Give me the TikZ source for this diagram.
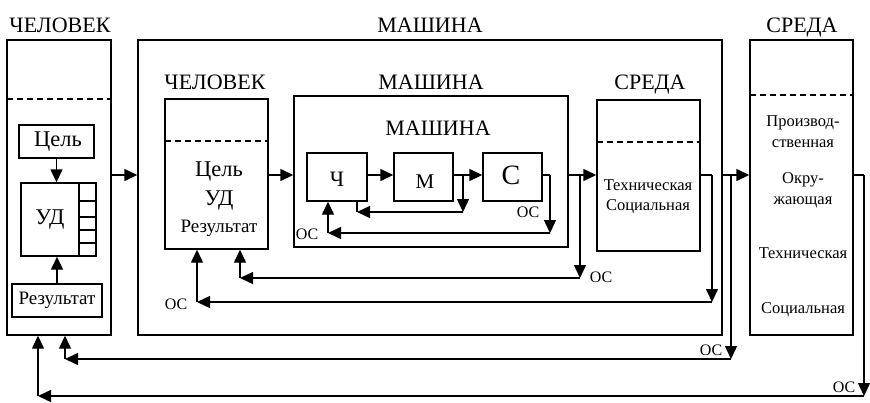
\documentclass[tikz,border=0pt]{standalone}
\usepackage{fontspec}
\setmainfont{Liberation Serif}
\usetikzlibrary{arrows.meta}
\newcommand{\fs}[1]{\fontsize{#1}{#1}\selectfont}
\begin{document}
\begin{tikzpicture}[x=1pt,y=-1pt,line width=1.4pt,
  box/.style={draw,rectangle,inner sep=0pt,line width=1.4pt},
  arr/.style={-{Triangle[length=13pt,width=12pt]}},
  dsh/.style={line width=1.4pt,dash pattern=on 6pt off 4pt},
  big/.style={inner sep=0pt,anchor=base,font=\fs{22}},
  mid/.style={inner sep=0pt,font=\fs{22.5}},
  res/.style={inner sep=0pt,font=\fs{19}},
  sm/.style={inner sep=0pt,font=\fs{16.5}},
  oc/.style={inner sep=0pt,font=\fs{16}}]
\useasboundingbox (0,0) rectangle (870,402);
% boxes
\node[box,minimum width=104pt,minimum height=295pt] (hum) at (59,187.5) {};
\node[box,minimum width=75pt,minimum height=33pt] (goal) at (56.5,141.5) {};
\node[box,minimum width=75pt,minimum height=73pt] (ud) at (58.5,219.5) {};
\node[box,minimum width=90pt,minimum height=33pt] (resb) at (57,300.5) {};
\node[box,minimum width=584pt,minimum height=295pt] (mach) at (430,187.5) {};
\node[box,minimum width=103pt,minimum height=150pt] (hum2) at (216.5,174) {};
\node[box,minimum width=274pt,minimum height=151pt] (mach2) at (431,171.5) {};
\node[box,minimum width=60pt,minimum height=48pt] (ch) at (337,177) {};
\node[box,minimum width=59pt,minimum height=48pt] (m) at (423.5,177) {};
\node[box,minimum width=59pt,minimum height=48pt] (c) at (512.5,177) {};
\node[box,minimum width=103pt,minimum height=151pt] (env2) at (648.5,175.5) {};
\node[box,minimum width=103pt,minimum height=295pt] (env) at (801.5,187.5) {};
% dashed separators
\draw[dsh] (7,99) -- (111,99);
\draw[dsh] (165,141) -- (268,141);
\draw[dsh] (597,142) -- (700,142);
\draw[dsh] (750,95) -- (853,95);
% cells of UD
\draw (79,183) -- (79,256);
\foreach \yy in {201,217,230,243} \draw (79,\yy) -- (96,\yy);
% labels
\node[big] (l1) at (60,32) {ЧЕЛОВЕК};
\node[big] (l2) at (430,32) {МАШИНА};
\node[big] (l3) at (802,32) {СРЕДА};
\node[big] (l4) at (215,89) {ЧЕЛОВЕК};
\node[big] (l5) at (431,89) {МАШИНА};
\node[big] (l6) at (650,89) {СРЕДА};
\node[big] (l7) at (438,135) {МАШИНА};
\node[mid] (tg) at (58,141.5) {Цель};
\node[mid] (tud) at (50,220) {УД};
\node[res] (tres) at (57,300.5) {Результат};
\node[mid] (tg2) at (219,172) {Цель};
\node[mid] (tud2) at (219,201) {УД};
\node[res] (tres2) at (219,228) {Результат};
\node[inner sep=0pt,font=\fs{22}] (tch) at (337,179) {Ч};
\node[inner sep=0pt,font=\fs{21}] (tm) at (425,182) {М};
\node[inner sep=0pt,font=\fs{28}] (tc) at (511,175) {С};
\node[sm] (te1) at (648,185) {Техническая};
\node[sm] (te2) at (648,207) {Социальная};
\node[sm] (tp1) at (803,123) {Производ-};
\node[sm] (tp2) at (803,144) {ственная};
\node[sm] (tp3) at (803,180) {Окру-};
\node[sm] (tp4) at (803,202) {жающая};
\node[sm] (tp5) at (803,253) {Техническая};
\node[sm] (tp6) at (803,310) {Социальная};
\node[oc] (o1) at (307,234) {ОС};
\node[oc] (o2) at (528,212) {ОС};
\node[oc] (o3) at (601,277) {ОС};
\node[oc] (o4) at (176,304) {ОС};
\node[oc] (o5) at (711,350) {ОС};
\node[oc] (o6) at (844,387) {ОС};
% main flow
\coordinate (fy) at (0,175);
\draw[arr] (goal.south) -- (goal.south |- ud.north);
\draw[arr] (resb.north) -- (resb.north |- ud.south);
\draw[arr] (hum.east |- fy) -- (mach.west |- fy);
\draw[arr] (hum2.east |- fy) -- (mach2.west |- fy);
\draw[arr] (ch.east |- fy) -- (m.west |- fy);
\draw[arr] (m.east |- fy) -- (c.west |- fy);
\draw[arr] (mach2.east |- fy) -- (env2.west |- fy);
\draw[arr] (mach.east |- fy) -- (env.west |- fy);
% feedback loops
\coordinate (b1) at (463,175); \coordinate (k1) at (463,212); \coordinate (k1l) at (357,212);
\draw[arr] (b1) -- (k1); \draw[arr] (k1) -- (k1l); \draw (k1l) -- (k1l |- ch.south);
\coordinate (b2) at (550,175); \coordinate (k2) at (550,233); \coordinate (k2l) at (328,233);
\draw (c.east |- fy) -- (b2); \draw[arr] (b2) -- (k2); \draw[arr] (k2) -- (k2l); \draw[arr] (k2l) -- (k2l |- ch.south);
\coordinate (b3) at (580,175); \coordinate (k3) at (580,278); \coordinate (k3l) at (240,278);
\draw[arr] (b3) -- (k3); \draw[arr] (k3) -- (k3l); \draw[arr] (k3l) -- (k3l |- hum2.south);
\coordinate (b4) at (712,175); \coordinate (k4) at (712,302); \coordinate (k4l) at (197,302);
\draw (env2.east |- fy) -- (b4); \draw[arr] (b4) -- (k4); \draw[arr] (k4) -- (k4l); \draw[arr] (k4l) -- (k4l |- hum2.south);
\coordinate (b5) at (731,175); \coordinate (k5) at (731,359); \coordinate (k5l) at (65,359);
\draw[arr] (b5) -- (k5); \draw[arr] (k5) -- (k5l); \draw[arr] (k5l) -- (k5l |- hum.south);
\coordinate (b6) at (864,175); \coordinate (k6) at (864,396); \coordinate (k6l) at (38,396);
\draw (env.east |- fy) -- (b6); \draw[arr] (b6) -- (k6); \draw[arr] (k6) -- (k6l); \draw[arr] (k6l) -- (k6l |- hum.south);
\end{tikzpicture}
\end{document}
